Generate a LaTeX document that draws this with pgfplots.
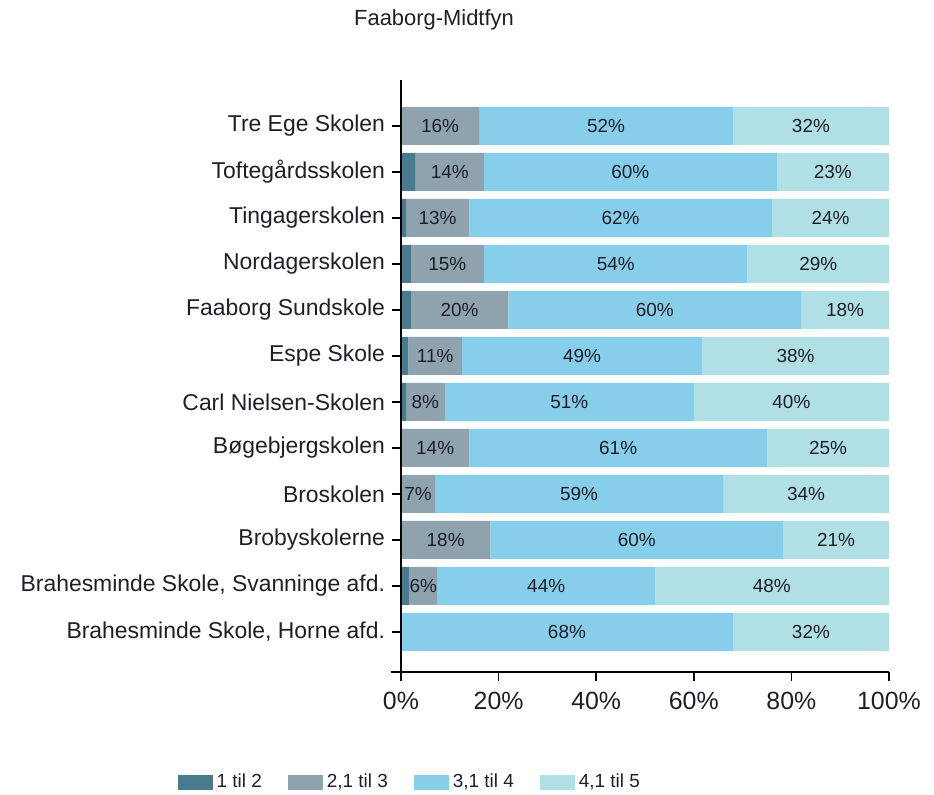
\documentclass[border=0pt]{standalone}
\usepackage{pgfplots}
\usepackage{pgfplotstable}
\pgfplotsset{compat=1.18}
\usepackage{fontspec}
\setmainfont{Liberation Sans}
\definecolor{cA}{RGB}{74,122,142}
\definecolor{cB}{RGB}{143,163,174}
\definecolor{cC}{RGB}{135,206,235}
\definecolor{cD}{RGB}{176,224,230}
\definecolor{txt}{RGB}{30,30,40}
\pgfplotsset{lgbox/.style={legend image code/.code={\fill[##1] (0bp,-3.75bp) rectangle (17.5bp,3.75bp);}}}
\pgfplotstableread{
i a b c d
0 0 0 68 32
1 1.6 5.9 44.5 48
2 0 18.3 60 21.7
3 0 7 59 34
4 0 14 61 25
5 1 8 51 40
6 1.5 11 49.2 38.3
7 2 20 60 18
8 2 15 54 29
9 1 13 62 24
10 3 14 60 23
11 0 16 52 32
}\bars
\pgfplotstableread{
x y v
8 11 16
42 11 52
84 11 32
10 10 14
47 10 60
88.5 10 23
7.5 9 13
45 9 62
88 9 24
9.5 8 15
44 8 54
85.5 8 29
12 7 20
52 7 60
91 7 18
7 6 11
37.1 6 49
80.85 6 38
5 5 8
34.5 5 51
80 5 40
7 4 14
44.5 4 61
87.5 4 25
3.5 3 7
36.5 3 59
83 3 34
9.15 2 18
48.3 2 60
89.15 2 21
4.55 1 6
29.75 1 44
76 1 48
34 0 68
84 0 32
}\labels
\begin{document}
\begin{tikzpicture}
\pgfplotsset{common/.style={
  at={(0,0)}, anchor=south west,
  scale only axis, width=244bp, height=296bp,
  xmin=0, xmax=100, ymin=-0.87, ymax=12.0,
  /pgf/number format/assume math mode=true,
}}
\begin{axis}[common,
  clip=false,
  xbar stacked, bar width=19bp,
  axis x line*=bottom, axis y line*=left,
  axis line style={-, line width=0.75bp, black},
  every outer x axis line/.append style={-},
  every outer y axis line/.append style={-},
  tick style={black, line width=0.75bp},
  major tick length=4.5bp,
  xtick align=outside, ytick align=outside,
  axis on top,
  xtick={0,20,40,60,80,100},
  xticklabels={0\%,20\%,40\%,60\%,80\%,100\%},
  ytick={0,1,2,3,4,5,6,7,8,9,10,11},
  yticklabels={{Brahesminde Skole, Horne afd.},{Brahesminde Skole, Svanninge afd.},Brobyskolerne,Broskolen,Bøgebjergskolen,Carl Nielsen-Skolen,Espe Skole,Faaborg Sundskole,Nordagerskolen,Tingagerskolen,Toftegårdsskolen,Tre Ege Skolen},
  xticklabel style={font=\fontsize{12.5}{15}\selectfont, text=txt, yshift=-2bp},
  yticklabel style={font=\fontsize{11.5}{13}\selectfont, text=txt},
  legend columns=4,
  legend style={at={(0.02,-0.186)}, anchor=center, draw=none, fill=none,
    font=\fontsize{9.5}{11}\selectfont, text=txt,
    /tikz/every even column/.append style={column sep=11bp}},
]
\addplot[fill=cA, draw=none, lgbox] table[x=a, y=i] {\bars};
\addlegendentry{1 til 2}
\addplot[fill=cB, draw=none, lgbox] table[x=b, y=i] {\bars};
\addlegendentry{2,1 til 3}
\addplot[fill=cC, draw=none, lgbox] table[x=c, y=i] {\bars};
\addlegendentry{3,1 til 4}
\addplot[fill=cD, draw=none, lgbox] table[x=d, y=i] {\bars};
\addlegendentry{4,1 til 5}
\draw[line width=0.75bp] (axis cs:-2.1,-0.87) -- (axis cs:0,-0.87);
\pgfplotsinvokeforeach{0,...,11}{\draw[line width=0.75bp, black] (axis cs:0,#1) -- ++(-4.5bp,0bp);}
\end{axis}
\begin{axis}[common, hide axis]
\addplot[only marks, mark=none, point meta=explicit,
  nodes near coords={\pgfmathprintnumber{\pgfplotspointmeta}\%},
  every node near coord/.append style={anchor=center, inner sep=0pt,
    font=\fontsize{9.5}{11}\selectfont, text=txt}]
  table[x=x, y=y, meta=v] {\labels};
\end{axis}
\node[font=\fontsize{11}{13}\selectfont, text=txt] at (16.5bp,326bp) {Faaborg-Midtfyn};
\pgfresetboundingbox
\path (-200.5bp,-61.5bp) rectangle (266.5bp,336bp);
\end{tikzpicture}
\end{document}
